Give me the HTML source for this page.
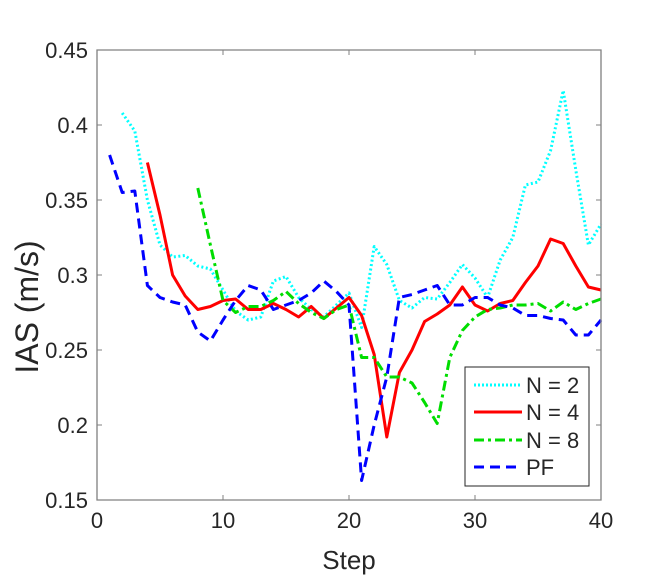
<!DOCTYPE html>
<html><head><meta charset="utf-8"><style>
body{margin:0;background:#fff;}
svg text{font-family:"Liberation Sans",Arial,sans-serif;fill:#262626;}
</style></head><body>
<svg id="chart" width="664" height="577" xmlns="http://www.w3.org/2000/svg">
<rect x="97" y="50" width="504" height="450" fill="#fff"/>
<g id="grid"></g><g id="series"></g><g id="axes"></g>
<text x="349" y="569" font-size="26" text-anchor="middle">Step</text>
<text transform="translate(38,307) rotate(-90)" font-size="32" text-anchor="middle">IAS (m/s)</text>
<g>
<rect x="465" y="367" width="124" height="119" fill="#fff" stroke="#262626" stroke-width="1"/>
<line x1="474" y1="385" x2="522" y2="385" stroke="#00ffff" stroke-width="3" stroke-dasharray="2,2"/>
<text x="526" y="393" font-size="22">N = 2</text>
<line x1="474" y1="412" x2="522" y2="412" stroke="#ff0000" stroke-width="3"/>
<text x="526" y="420" font-size="22">N = 4</text>
<line x1="474" y1="440" x2="522" y2="440" stroke="#00dd00" stroke-width="3" stroke-dasharray="10,4,3,4"/>
<text x="526" y="448" font-size="22">N = 8</text>
<line x1="474" y1="467" x2="522" y2="467" stroke="#0000ff" stroke-width="3" stroke-dasharray="10,6"/>
<text x="526" y="475" font-size="22">PF</text>
</g>
</svg>
<script>
const xTicks=[0,10,20,30,40];
const yTicks=[0.15,0.2,0.25,0.3,0.35,0.4,0.45];
const yTickLabels=["0.15","0.2","0.25","0.3","0.35","0.4","0.45"];
const n2Start=2;
const n2Values=[0.408,0.396,0.35,0.32,0.312,0.313,0.306,0.304,0.29,0.276,0.27,0.272,0.296,0.299,0.285,0.277,0.272,0.28,0.288,0.265,0.319,0.307,0.283,0.278,0.285,0.284,0.295,0.307,0.298,0.285,0.31,0.325,0.36,0.362,0.383,0.423,0.37,0.32,0.334];
const n4Start=4;
const n4Values=[0.375,0.34,0.3,0.286,0.277,0.279,0.283,0.284,0.277,0.277,0.281,0.277,0.272,0.279,0.271,0.278,0.285,0.273,0.247,0.192,0.235,0.25,0.269,0.274,0.28,0.292,0.28,0.276,0.281,0.283,0.295,0.306,0.324,0.321,0.306,0.292,0.29];
const n8Start=8;
const n8Values=[0.358,0.32,0.283,0.275,0.279,0.279,0.283,0.289,0.281,0.275,0.271,0.277,0.28,0.245,0.245,0.232,0.232,0.228,0.215,0.201,0.245,0.263,0.272,0.277,0.278,0.28,0.28,0.281,0.276,0.282,0.277,0.281,0.284];
const pfStart=1;
const pfValues=[0.38,0.355,0.356,0.293,0.285,0.282,0.28,0.262,0.256,0.27,0.283,0.293,0.29,0.277,0.28,0.283,0.288,0.296,0.289,0.28,0.163,0.2,0.232,0.285,0.287,0.29,0.293,0.28,0.28,0.285,0.285,0.28,0.278,0.273,0.273,0.271,0.27,0.26,0.26,0.27];

const NS="http://www.w3.org/2000/svg";
const L=97,R=601,T=50,B=500;
function sx(v){return L+(v-0)/(40-0)*(R-L);}
function sy(v){return B-(v-0.15)/(0.45-0.15)*(B-T);}
function mk(tag,attrs,parent){const e=document.createElementNS(NS,tag);for(const k in attrs)e.setAttribute(k,attrs[k]);parent.appendChild(e);return e;}
const axes=document.getElementById('axes');
const ser=document.getElementById('series');
function addSeries(start,vals,color,dash,name){
  const pts=vals.map((v,i)=>sx(start+i).toFixed(1)+','+sy(v).toFixed(1)).join(' ');
  const p=mk('polyline',{points:pts,fill:'none',stroke:color,'stroke-width':3,'stroke-dasharray':dash,'stroke-linejoin':'round'},ser);
  
  
}
addSeries(n2Start,n2Values,'#00ffff','2,2.5','series-n2');
addSeries(n4Start,n4Values,'#ff0000','none','series-n4');
addSeries(n8Start,n8Values,'#00dd00','10,4,3,4','series-n8');
addSeries(pfStart,pfValues,'#0000ff','10,6','series-pf');
const ax=mk('path',{d:`M${L},${T}V${B}H${R}V${T}Z`,fill:'none',stroke:'#808080','stroke-width':1.3},axes);


xTicks.forEach(t=>{
  mk('line',{x1:sx(t),x2:sx(t),y1:B,y2:B-5,stroke:'#808080'},axes);
  mk('line',{x1:sx(t),x2:sx(t),y1:T,y2:T+5,stroke:'#808080'},axes);
  const tx=mk('text',{x:sx(t),y:B+28,'font-size':22,'text-anchor':'middle'},axes);
  tx.textContent=t;
  
  
});
yTicks.forEach((t,i)=>{
  mk('line',{x1:L,x2:L+5,y1:sy(t),y2:sy(t),stroke:'#808080'},axes);
  mk('line',{x1:R,x2:R-5,y1:sy(t),y2:sy(t),stroke:'#808080'},axes);
  const tx=mk('text',{x:L-9,y:sy(t)+8,'font-size':22,'text-anchor':'end'},axes);
  tx.textContent=yTickLabels[i];
  
  
});
</script>
</body></html>
